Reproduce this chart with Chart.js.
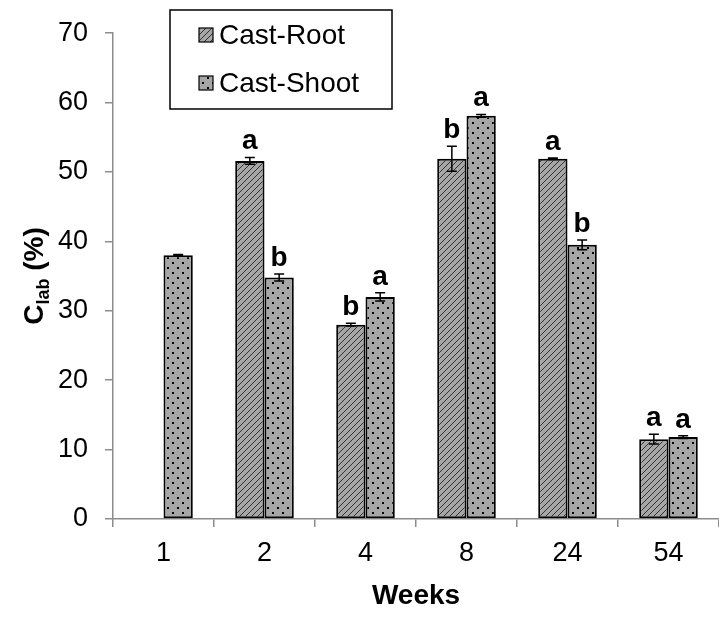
<!DOCTYPE html>
<html>
<head>
<meta charset="utf-8">
<script src="https://cdn.jsdelivr.net/npm/chart.js@4"></script>
<style>
  html, body { margin: 0; padding: 0; background: #fff; }
  #wrap { width: 719px; height: 619px; }
</style>
</head>
<body>
<div id="wrap"><canvas id="chart1" width="719" height="619"></canvas></div>
<script>
var weeks = ['1', '2', '4', '8', '24', '54'];
var rootValues = [null, 51.6, 28.0, 51.9, 51.9, 11.5];
var rootErrors = [null, 0.5, 0.2, 1.8, 0.1, 0.7];
var shootValues = [38.0, 34.8, 32.0, 58.1, 39.5, 11.8];
var shootErrors = [0.1, 0.5, 0.6, 0.2, 0.7, 0.2];
var rootLetters = ['', 'a', 'b', 'b', 'a', 'a'];
var shootLetters = ['', 'b', 'a', 'a', 'b', 'a'];
var yTicks = [0, 10, 20, 30, 40, 50, 60, 70];

var fontFamily = '"Liberation Sans", Arial, sans-serif';
var axisGray = '#8c8c8c';

function makeHatch() {
    var c = document.createElement('canvas');
    c.width = 6; c.height = 6;
    var g = c.getContext('2d');
    g.fillStyle = '#a6a6a6';
    g.fillRect(0, 0, 6, 6);
    g.strokeStyle = '#333';
    g.lineWidth = 1;
    g.beginPath();
    g.moveTo(0, 6); g.lineTo(6, 0);
    g.moveTo(-1, 1); g.lineTo(1, -1);
    g.moveTo(5, 7); g.lineTo(7, 5);
    g.stroke();
    return g.createPattern(c, 'repeat');
}

function makeDots() {
    var c = document.createElement('canvas');
    c.width = 10; c.height = 10;
    var g = c.getContext('2d');
    g.fillStyle = '#a6a6a6';
    g.fillRect(0, 0, 10, 10);
    g.fillStyle = '#000';
    g.fillRect(2, 2, 2, 2);
    g.fillRect(7, 7, 2, 2);
    return g.createPattern(c, 'repeat');
}

var rootFill = makeHatch();
var shootFill = makeDots();

var errorBarsPlugin = {
    id: 'errorBars',
    afterDatasetsDraw: function(chart) {
        var ctx = chart.ctx;
        var y = chart.scales.y;
        var errs = [rootErrors, shootErrors];
        var letters = [rootLetters, shootLetters];
        ctx.save();
        chart.data.datasets.forEach(function(ds, di) {
            var meta = chart.getDatasetMeta(di);
            meta.data.forEach(function(bar, i) {
                var v = ds.data[i];
                if (v === null) return;
                var e = errs[di][i] || 0;
                var top = y.getPixelForValue(v + e);
                var bot = y.getPixelForValue(v - e);
                ctx.strokeStyle = '#000';
                ctx.lineWidth = 1.5;
                ctx.beginPath();
                ctx.moveTo(bar.x, top); ctx.lineTo(bar.x, bot);
                ctx.moveTo(bar.x - 5, top); ctx.lineTo(bar.x + 5, top);
                ctx.moveTo(bar.x - 5, bot); ctx.lineTo(bar.x + 5, bot);
                ctx.stroke();
                var t = letters[di][i];
                if (t) {
                    ctx.fillStyle = '#000';
                    ctx.font = 'bold 28px ' + fontFamily;
                    ctx.textAlign = 'center';
                    ctx.textBaseline = 'alphabetic';
                    ctx.fillText(t, bar.x, top - 8);
                }
            });
        });
        ctx.restore();
    }
};

var extrasPlugin = {
    id: 'extras',
    afterDraw: function(chart) {
        var ctx = chart.ctx;
        ctx.save();
        // legend box
        ctx.strokeStyle = '#000';
        ctx.lineWidth = 1.5;
        ctx.strokeRect(170, 10, 222, 99);
        var fills = [rootFill, shootFill];
        chart.data.datasets.forEach(function(ds, i) {
            var cy = 35 + i * 48;
            ctx.fillStyle = fills[i];
            ctx.fillRect(199, cy - 7, 14, 14);
            ctx.lineWidth = 1.2;
            ctx.strokeRect(199, cy - 7, 14, 14);
            ctx.fillStyle = '#000';
            ctx.font = '28px ' + fontFamily;
            ctx.textAlign = 'left';
            ctx.textBaseline = 'middle';
            ctx.fillText(ds.label, 219, cy + 1);
        });
        // y axis title with subscript
        ctx.translate(43, 276);
        ctx.rotate(-Math.PI / 2);
        ctx.fillStyle = '#000';
        ctx.textBaseline = 'alphabetic';
        ctx.textAlign = 'left';
        var big = 'bold 28px ' + fontFamily;
        var small = 'bold 18px ' + fontFamily;
        ctx.font = big; var w1 = ctx.measureText('C').width;
        ctx.font = small; var w2 = ctx.measureText('lab').width;
        ctx.font = big; var w3 = ctx.measureText(' (%)').width;
        var x0 = -(w1 + w2 + w3) / 2;
        ctx.font = big; ctx.fillText('C', x0, 0);
        ctx.font = small; ctx.fillText('lab', x0 + w1, 6);
        ctx.font = big; ctx.fillText(' (%)', x0 + w1 + w2, 0);
        ctx.restore();
    }
};

var ctx1 = document.getElementById('chart1').getContext('2d');
new Chart(ctx1, {
    type: 'bar',
    plugins: [errorBarsPlugin, extrasPlugin],
    data: {
        labels: weeks,
        datasets: [{
            label: 'Cast-Root',
            data: rootValues,
            backgroundColor: rootFill,
            borderColor: '#000',
            borderWidth: 2,
            borderSkipped: false
        }, {
            label: 'Cast-Shoot',
            data: shootValues,
            backgroundColor: shootFill,
            borderColor: '#000',
            borderWidth: 2,
            borderSkipped: false
        }]
    },
    options: {
        responsive: false,
        animation: false,
        events: [],
        categoryPercentage: 0.58,
        barPercentage: 1.0,
        layout: { padding: { top: 29, right: 0, left: 0, bottom: 0 } },
        plugins: {
            legend: { display: false },
            tooltip: { enabled: false }
        },
        scales: {
            x: {
                offset: true,
                grid: {
                    offset: true,
                    drawOnChartArea: false,
                    color: axisGray,
                    lineWidth: 1.5,
                    tickLength: 8
                },
                border: { color: axisGray, width: 1.5 },
                ticks: {
                    color: '#000',
                    font: { family: fontFamily, size: 27 },
                    padding: 10
                },
                title: {
                    display: true,
                    text: 'Weeks',
                    color: '#000',
                    font: { family: fontFamily, size: 28, weight: 'bold' },
                    padding: { top: 2, bottom: 6 }
                },
                afterFit: function(scale) { scale.height = 100; }
            },
            y: {
                min: 0,
                max: 70,
                afterBuildTicks: function(scale) {
                    scale.ticks = yTicks.map(function(v) { return { value: v }; });
                },
                grid: {
                    drawOnChartArea: false,
                    color: axisGray,
                    lineWidth: 1.5,
                    tickLength: 8
                },
                border: { color: axisGray, width: 1.5 },
                ticks: {
                    color: '#000',
                    font: { family: fontFamily, size: 27 },
                    padding: 17
                },
                afterFit: function(scale) { scale.width = 113; }
            }
        }
    }
});
</script>
</body>
</html>
